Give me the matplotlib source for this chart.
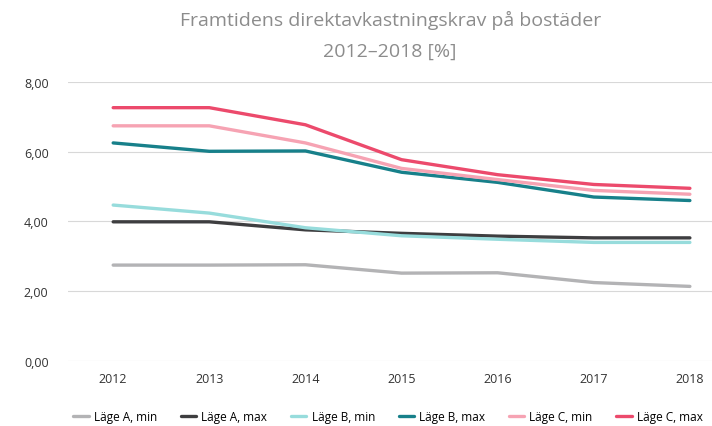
import matplotlib
matplotlib.use("Agg")
import matplotlib.pyplot as plt

# direktavkastningskrav per lage, 2012-2018
years = [2012, 2013, 2014, 2015, 2016, 2017, 2018]
a_min = [2.75, 2.75, 2.76, 2.52, 2.53, 2.25, 2.14]
a_max = [3.99, 3.99, 3.76, 3.66, 3.58, 3.53, 3.53]
b_min = [4.47, 4.24, 3.82, 3.59, 3.49, 3.40, 3.40]
b_max = [6.25, 6.01, 6.02, 5.41, 5.12, 4.70, 4.60]
c_min = [6.74, 6.74, 6.25, 5.52, 5.20, 4.89, 4.78]
c_max = [7.26, 7.26, 6.77, 5.77, 5.34, 5.06, 4.95]

labels = ["Läge A, min", "Läge A, max", "Läge B, min", "Läge B, max", "Läge C, min", "Läge C, max"]
colors = ["#b3b3b5", "#3e3e40", "#97dcdc", "#17808a", "#f6a3b3", "#ec4a6c"]
yticks = [0, 2, 4, 6, 8]
ytick_labels = ["0,00", "2,00", "4,00", "6,00", "8,00"]

plt.rcParams['font.family'] = ['Open Sans', 'DejaVu Sans']

fig = plt.figure(figsize=(7.12, 4.27), dpi=100)
ax = fig.add_axes([0.0955, 0.152, 0.9045, 0.654])

series = [a_min, a_max, b_min, b_max, c_min, c_max]
for vals, lab, col in zip(series, labels, colors):
    ax.plot(years, vals, color=col, lw=2.4, label=lab, solid_capstyle='round')

ax.set_xlim(2011.53, 2018.23)
ax.set_ylim(0, 8)
ax.set_xticks(years)
ax.set_xticklabels([str(y) for y in years], fontsize=9, color="#333333")
ax.set_yticks(yticks)
ax.set_yticklabels(ytick_labels, fontsize=9, color="#333333")
ax.tick_params(length=0, pad=14)
ax.tick_params(axis='x', pad=8)
ax.grid(axis='y', color="#d8d8d8", lw=0.8)
ax.set_axisbelow(True)
for s in ax.spines.values():
    s.set_visible(False)

fig.text(0.548, 0.953, "Framtidens direktavkastningskrav på bostäder",
         ha='center', va='center', fontsize=14, color="#8c8c8c")
fig.text(0.548, 0.878, "2012–2018 [%]",
         ha='center', va='center', fontsize=14, color="#8c8c8c")

fig.legend(loc='center', bbox_to_anchor=(0.545, 0.022), ncol=6, frameon=False,
           fontsize=8.5, handlelength=1.3, columnspacing=2.0, handletextpad=0.45,
           borderpad=0.1)

fig.savefig("out.png", dpi=100)
